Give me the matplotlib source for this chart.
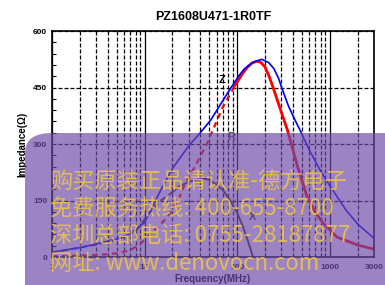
import matplotlib
matplotlib.use("Agg")
import matplotlib.pyplot as plt
from matplotlib.ticker import LogLocator, MultipleLocator, NullFormatter
from matplotlib.patches import FancyBboxPatch

# impedance |Z| (blue)
z_freq = [1, 2, 3, 5, 7, 10, 12, 15, 20, 30, 40, 52, 70, 86, 105, 120, 150, 185, 220, 250, 280,
          303, 360, 420, 478, 600, 800, 1000, 1500, 2000, 3000]
z_val = [13, 25, 35, 48, 62, 92, 130, 178, 235, 295, 330, 364, 415, 450, 482, 500, 518, 525, 516,
         500, 475, 450, 400, 365, 337, 285, 228, 190, 125, 88, 50]

# resistance R (red), dashed below ~100 MHz
r_freq = [1, 3, 5, 7, 9, 11.4, 14.7, 18.8, 24, 27, 35, 47, 70, 95, 115, 130, 145, 165, 180, 200,
          220, 245, 300, 350, 450, 570, 700, 850, 1200, 2000, 3000]
r_val = [2, 5, 10, 18, 35, 60, 85, 115, 160, 192, 240, 300, 398, 456, 488, 505, 515, 520, 517,
         505, 482, 450, 385, 337, 240, 160, 118, 90, 53, 32, 21]

# reactance X (dark), dashed at low frequency
x_freq = [1, 3, 5, 8, 11.5, 15, 20, 23, 30, 38, 45, 50, 60, 70, 84, 100, 116, 130, 144, 148]
x_val = [12, 33, 46, 68, 120, 150, 172, 186, 200, 206, 208, 205, 192, 178, 151, 118, 80, 45, 11, 0]

x_ticks = [1, 10, 100, 1000, 3000]
x_tick_labels = ["1", "10", "100", "1000", "3000"]
y_ticks = [0, 150, 300, 450, 600]

watermark = ["购买原装正品请认准-德方电子",
             "免费服务热线: 400-655-8700",
             "深圳总部电话: 0755-28187877",
             "网址: www.denovocn.com"]

plt.rcParams["font.family"] = ["Liberation Sans", "DejaVu Sans"]

fig = plt.figure(figsize=(3.85, 2.85), dpi=100)
ax = fig.add_axes([0.135, 0.098, 0.836, 0.793])

ax.set_xscale("log")
ax.set_xlim(1, 3000)
ax.set_ylim(0, 600)

# grid
ax.xaxis.set_minor_locator(LogLocator(base=10, subs=[2, 3, 4, 5, 6, 7, 8, 9], numticks=20))
ax.xaxis.set_minor_formatter(NullFormatter())
ax.grid(which="minor", axis="x", color="black", lw=0.9, linestyle=(0, (3.2, 1.6)))
ax.grid(which="major", axis="x", color="black", lw=0.9, linestyle="-")
ax.grid(which="major", axis="y", color="black", lw=0.9, linestyle=(0, (3.2, 1.6)))
ax.set_axisbelow(True)

# curves
split = [i for i, f in enumerate(r_freq) if f <= 95][-1]
ax.plot(x_freq[:7], x_val[:7], color="#333333", lw=1.4, linestyle=(0, (3, 2)))
ax.plot(x_freq[6:], x_val[6:], color="#333333", lw=1.4)
ax.plot(r_freq[:split + 1], r_val[:split + 1], color="red", lw=1.6, linestyle=(0, (2.5, 2)))
ax.plot(r_freq[split:], r_val[split:], color="red", lw=2.0)
ax.plot(z_freq, z_val, color="blue", lw=1.2)

ax.text(68, 470, "Z", fontsize=8, fontweight="bold", ha="center", va="center")
ax.text(86, 318, "R", fontsize=8, fontweight="bold", ha="center", va="center", color="#555555")
ax.text(148, 106, "X", fontsize=8, fontweight="bold", ha="center", va="center", color="#333333")

ax.set_xticks(x_ticks)
ax.set_xticklabels(x_tick_labels)
ax.set_yticks(y_ticks)
ax.yaxis.set_minor_locator(MultipleLocator(30))
ax.tick_params(which="major", length=0, labelsize=6)
ax.tick_params(axis="x", which="major", pad=5)
ax.tick_params(axis="y", which="minor", direction="in", length=3, width=0.8)
ax.tick_params(axis="x", which="minor", length=0)
for lab in ax.get_xticklabels() + ax.get_yticklabels():
    lab.set_fontweight("bold")
for sp in ax.spines.values():
    sp.set_linewidth(1.2)

ax.set_xlabel("Frequency(MHz)", fontsize=7, fontweight="bold", labelpad=2)
ax.set_ylabel("Impedance(Ω)", fontsize=7, fontweight="bold", labelpad=4)
ax.set_title("PZ1608U471-1R0TF", fontsize=9, fontweight="bold", pad=8)

# watermark overlay
box = FancyBboxPatch((25 / 385, -0.1), 1.02, (285 - 133) / 285 + 0.1,
                     boxstyle="round,pad=0,rounding_size=0.07",
                     transform=fig.transFigure, facecolor="#6e4aa8", alpha=0.68,
                     edgecolor="none", zorder=10)
fig.patches.append(box)
for i, line in enumerate(watermark):
    fig.text(50 / 385, 1 - (182 + i * 27) / 285, line, fontsize=16,
             family=["Noto Sans CJK SC", "DejaVu Sans"], color="#f0c640", alpha=0.85,
             ha="left", va="center", zorder=11)

fig.savefig("out.png", dpi=100)
